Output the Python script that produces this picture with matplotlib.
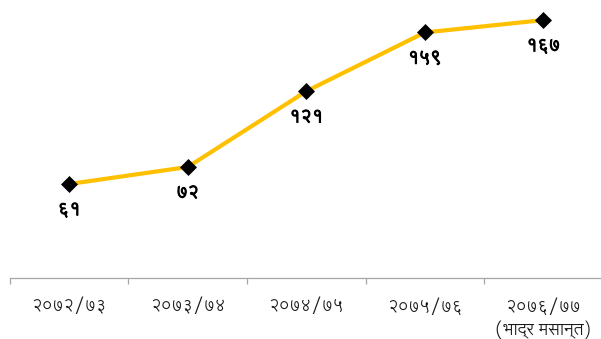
import matplotlib
matplotlib.use("Agg")
import matplotlib.pyplot as plt
import matplotlib.patheffects as pe

categories = ["२०७२/७३", "२०७३/७४", "२०७४/७५", "२०७५/७६", "२०७६/७७\n(भाद्र मसान्त)"]
values = [61, 72, 121, 159, 167]

DEV = str.maketrans("0123456789", "०१२३४५६७८९")
def dev(n):
    return str(n).translate(DEV)

FAM = ['Lohit Devanagari', 'Noto Sans Devanagari', 'DejaVu Sans']

fig = plt.figure(figsize=(6.01, 3.39), dpi=100)
ax = fig.add_axes([0.0166, 0.179, 0.986, 0.821])
x = list(range(len(values)))
ax.plot(x, values, color='#FFC000', lw=3, marker='D', ms=8.5, mew=0.5,
        mfc='black', mec='black', clip_on=False, zorder=3)
for xi, v in zip(x, values):
    ax.annotate(dev(v), (xi, v), xytext=(0, -12), textcoords='offset points',
                ha='center', va='top', fontsize=12.5, family=FAM, color='black',
                path_effects=[pe.withStroke(linewidth=0.8, foreground='black')])

ax.set_xlim(-0.5, 4.5)
ax.set_ylim(0, 180)
ax.set_yticks([])
for s in ['top', 'right', 'left']:
    ax.spines[s].set_visible(False)
ax.spines['bottom'].set_color('#A6A6A6')
ax.spines['bottom'].set_linewidth(0.9)
ax.set_xticks([i - 0.5 for i in range(len(values) + 1)])
ax.set_xticklabels([])
ax.tick_params(axis='x', which='major', length=4, color='#A6A6A6', width=0.9)
ax.set_xticks(x, minor=True)
ax.set_xticklabels(categories, minor=True, fontsize=12, family=FAM, color='#1a1a1a',
                   linespacing=1.35)
ax.tick_params(axis='x', which='minor', length=0, pad=14)
ax.patch.set_alpha(0)
fig.savefig("out.png", dpi=100)
